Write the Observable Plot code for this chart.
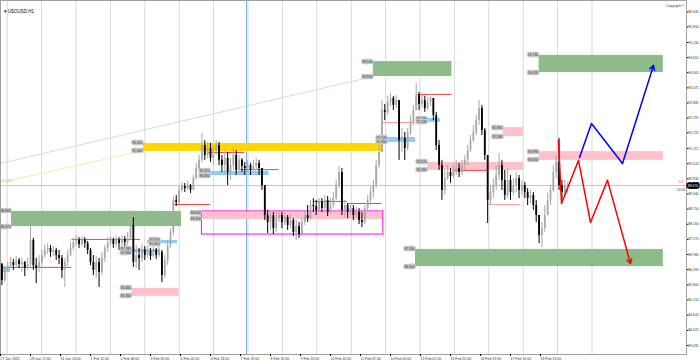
<!DOCTYPE html>
<html><head><meta charset="utf-8">
<script src="https://cdn.jsdelivr.net/npm/d3@7"></script>
<script src="https://cdn.jsdelivr.net/npm/@observablehq/plot@0.6"></script>
<style>body{margin:0;background:#fff}svg{display:block}</style>
</head><body><div id="chart"></div>
<script>
const title = "▾ USOUSD,H1";
const copyright = "Copyright ©";
const dateLabels = ["27 Jan 2022","28 Jan 17:00","31 Jan 14:00","1 Feb 11:00","2 Feb 08:00","3 Feb 05:00","4 Feb 02:00","4 Feb 23:00","7 Feb 19:00","8 Feb 16:00","9 Feb 13:00","10 Feb 10:00","11 Feb 07:00","14 Feb 04:00","15 Feb 01:00","15 Feb 22:00","16 Feb 19:00","17 Feb 16:00","18 Feb 13:00"];
const priceTicks = [83.435,84.025,84.620,85.210,85.800,86.390,86.980,87.570,88.160,88.750,89.340,89.930,90.520,91.115,91.720,92.295,92.885,93.475,94.065,94.655,95.240,95.850,96.435];

const firstOpen = 86.60;
const closes = [85.97,86.36,86.51,86.67,86.55,86.75,86.59,86.67,86.44,86.59,
87.53,86.55,86.44,86.67,86.94,87.14,87.22,87.06,87.14,86.94,
86.83,86.36,86.67,86.94,87.22,87.45,87.53,87.37,87.53,87.41,
87.14,86.67,86.36,86.67,86.28,86.83,87.22,87.41,87.53,87.37,
87.53,87.41,87.57,87.45,87.61,88.11,86.67,86.94,86.83,87.14,
86.94,87.10,86.90,87.14,86.94,87.06,86.16,86.75,87.33,87.84,
89.09,89.01,89.48,89.63,89.55,89.67,89.48,89.94,90.33,90.65,
91.23,90.84,91.11,90.72,91.03,91.23,90.65,90.45,90.72,90.18,
90.45,90.84,90.26,90.65,90.41,90.33,90.45,90.26,90.41,90.53,
90.33,89.67,88.50,88.23,88.50,87.99,88.38,88.50,88.23,88.42,
88.11,88.31,87.84,88.07,87.76,88.23,88.50,88.38,88.89,88.85,
88.70,89.01,88.77,89.09,88.62,88.89,89.16,89.67,90.18,88.70,
88.89,88.62,88.77,88.50,88.62,88.31,88.23,88.77,89.09,89.40,
89.67,90.45,90.96,92.59,92.52,92.91,93.06,92.79,92.98,91.42,
91.50,91.11,91.74,92.13,92.59,93.18,92.83,92.98,92.67,92.91,
93.06,92.40,91.23,90.45,89.48,89.94,90.18,90.02,90.26,90.33,
90.18,90.45,90.65,91.03,91.42,91.74,92.20,92.67,91.81,90.84,
89.09,89.40,89.67,90.06,90.45,89.87,89.28,89.87,89.40,89.67,
89.94,89.48,89.67,89.40,89.16,89.28,88.89,88.50,87.72,87.99,
88.50,89.09,89.48,90.18,90.57,89.67,89.40,89.67,89.67];
const highs = [86.63,86.55,86.67,86.87,86.79,86.90,86.83,86.83,86.71,86.83,
88.11,87.61,86.83,86.94,87.14,87.37,87.41,87.33,87.29,87.22,
87.14,86.94,86.83,87.14,87.45,87.61,87.72,87.64,87.68,87.64,
87.49,87.22,86.94,86.90,86.83,87.06,87.33,87.64,87.68,87.61,
87.68,87.64,87.72,87.68,87.84,88.70,88.42,87.33,87.22,87.37,
87.29,87.33,87.22,87.29,87.22,87.33,87.14,86.94,87.53,87.99,
89.24,89.28,89.63,89.79,89.75,89.83,89.71,90.06,90.53,90.84,
91.70,91.42,91.35,91.31,91.23,91.42,91.35,90.84,91.03,90.96,
90.72,91.11,91.03,90.84,90.72,90.57,90.65,90.53,90.65,90.72,
90.65,90.33,89.67,88.70,88.70,88.62,88.62,88.70,88.62,88.58,
88.50,88.54,88.38,88.31,88.23,88.38,88.70,88.89,89.09,89.16,
89.09,89.16,89.16,89.28,89.24,89.16,89.40,89.87,90.41,90.33,
89.09,88.97,88.97,88.89,88.81,88.77,88.62,88.89,89.28,89.63,
89.87,90.65,91.23,92.98,92.83,93.14,93.26,93.14,93.18,92.98,
91.89,91.74,91.89,92.40,92.79,93.65,93.30,93.18,93.14,93.10,
93.22,93.06,92.52,91.42,90.65,90.26,90.45,90.33,90.53,90.65,
90.53,90.65,90.84,91.23,91.62,92.01,92.40,92.98,92.79,91.89,
90.84,89.67,89.94,90.45,90.92,90.65,90.26,90.33,90.06,89.94,
90.18,90.06,89.87,89.79,89.55,89.48,89.40,89.09,88.50,88.23,
88.89,89.36,89.67,90.45,90.84,91.50,89.87,89.87,89.79];
const lows = [85.77,85.89,86.28,86.44,86.36,86.48,86.44,86.28,86.12,86.36,
86.51,86.36,85.85,86.28,86.55,86.83,86.98,86.87,86.90,86.75,
86.59,86.05,85.70,86.51,86.90,87.14,87.29,87.22,87.29,87.22,
86.98,86.55,86.16,86.05,85.70,86.16,86.67,87.06,87.29,87.22,
87.25,87.14,87.29,87.22,87.33,87.53,86.48,86.44,86.36,86.67,
86.75,86.83,86.75,86.87,86.79,86.87,85.89,86.05,86.55,87.22,
87.72,88.85,88.93,89.40,89.40,89.48,89.36,89.48,89.87,90.26,
90.57,90.65,90.72,90.57,90.45,90.84,90.45,90.18,90.06,89.67,
89.87,90.26,90.06,90.14,90.18,90.06,90.18,90.06,90.22,90.26,
90.06,89.48,88.31,87.80,87.92,87.76,87.84,88.23,87.99,88.11,
87.92,87.99,87.68,87.53,87.61,87.68,88.11,88.23,88.31,88.62,
88.50,88.62,88.62,88.70,88.46,88.54,88.77,89.09,89.55,88.50,
88.42,88.38,88.50,88.31,88.38,88.15,88.03,88.15,88.62,88.89,
89.16,89.55,90.33,90.96,92.20,92.40,92.75,92.59,92.67,90.65,
90.96,90.65,91.03,91.62,92.01,92.59,92.59,92.67,92.52,92.59,
92.75,92.20,91.03,90.26,89.09,89.28,89.87,89.75,89.94,90.06,
89.98,90.06,90.26,90.45,90.96,91.35,91.62,92.01,91.62,90.65,
88.19,88.89,89.16,89.48,89.87,89.48,89.09,89.16,89.09,89.28,
89.40,89.16,89.28,89.16,88.89,88.97,88.70,88.23,87.41,87.25,
87.84,88.50,88.89,89.40,89.94,89.48,89.09,89.28,89.36];

// zones: [startBar, endBar, top, bottom]
const demandZones = [[7.7,126.7,88.66,88.07],[261,316,94.50,93.92],[377,464,94.74,94.07],[290.5,464,87.18,86.51]];
const supplyZones = [[141,268,88.62,88.35],[92,125,85.66,85.35],[299,366,90.57,90.26],[352,366,91.93,91.58],[377,464,90.99,90.65]];
const dailyZones = [[100,268,91.31,91.00]];
const smallZones = [[0,7,86.44,86.28],[92,112,87.18,87.06],[103,124,87.53,87.41],[147,188,90.22,90.06],[271,290.5,91.54,91.35],[299,308,92.28,92.13]];
// bar at which each small zone's price labels end (none for the first)
const smallLabelBar = [null,92,112,147,271,299];
const rangeBox = [[141,268,88.66,87.76]];
// horizontal levels: [startBar, endBar, price]
const levels = [[0,50,86.48],[50,98,87.57],[122,147,88.93],[145,171,90.96],[168,195,90.29],[219,243,89.05],[243,267,88.97],[292,316,93.22],[317,341,90.26]];
const paleLevels = [[267,290,92.13],[341,364,88.93]];
const trendGreen = [[0,90.53],[261,93.92]];
const trendYellow = [[0,89.79],[100,91.03]];
const bearPath = [[390.6,91.42],[392.7,88.97],[404.6,90.65],[413,88.23],[424.9,89.87],[441,86.63]];
const bullPath = [[405.3,90.76],[413.7,92.09],[435.4,90.53],[457.1,94.35]];
const markerBar = 172.2;

const bars = closes.map((c,i)=>({t:1+2*i, open:i?closes[i-1]:firstOpen, close:c, high:highs[i], low:lows[i]}));
const last = closes[closes.length-1];
const toRect = a => a.map(([t1,t2,top,bottom])=>({t1,t2,top,bottom}));
const zoneLabels = [...demandZones,...supplyZones,...dailyZones]
  .flatMap(([t1,,top,bottom])=>[{t:t1,p:top},{t:t1,p:bottom}])
  .concat(smallZones.flatMap(([,,top,bottom],i)=>smallLabelBar[i]==null?[]:[{t:smallLabelBar[i],p:top},{t:smallLabelBar[i],p:bottom}]));
const seps = d3.range(18).map(k=>4.7+k*24.08);
const dateTicks = dateLabels.map((_,i)=>i*21);
const segs = p => p.slice(0,-1).map((d,i)=>({x1:d[0],y1:d[1],x2:p[i+1][0],y2:p[i+1][1]}));
const upC="#a9a9a9", dnC="#000";

const chart = Plot.plot({
  width:700, height:362, marginLeft:0, marginRight:14, marginTop:0, marginBottom:8,
  x:{domain:[0,480.2], axis:null}, y:{domain:[83.085,96.88], axis:null},
  style:{fontFamily:"Liberation Sans, Arial, sans-serif", background:"#fff"},
  marks:[
    Plot.ruleX(seps,{stroke:"#d9d9d9", strokeWidth:1}),
    Plot.ruleX([markerBar],{stroke:"#7fb0e6", strokeWidth:1}),
    Plot.ruleY([last],{stroke:"#c8c8c8"}),
    Plot.rect(toRect(demandZones),{x1:"t1",x2:"t2",y1:"bottom",y2:"top",fill:"#8dbb89"}),
    Plot.rect(toRect(supplyZones),{x1:"t1",x2:"t2",y1:"bottom",y2:"top",fill:"#ffc0cb"}),
    Plot.rect(toRect(dailyZones),{x1:"t1",x2:"t2",y1:"bottom",y2:"top",fill:"#ffd700"}),
    Plot.rect(toRect(smallZones),{x1:"t1",x2:"t2",y1:"bottom",y2:"top",fill:"#87cefa"}),
    Plot.rect(toRect(rangeBox),{x1:"t1",x2:"t2",y1:"bottom",y2:"top",fill:"none",stroke:"#ff00ff",strokeWidth:1}),
    Plot.link([trendGreen],{x1:d=>d[0][0],y1:d=>d[0][1],x2:d=>d[1][0],y2:d=>d[1][1],stroke:"#c9e4c9"}),
    Plot.link([trendYellow],{x1:d=>d[0][0],y1:d=>d[0][1],x2:d=>d[1][0],y2:d=>d[1][1],stroke:"#fbeaa0"}),
    Plot.ruleY(levels,{x1:d=>d[0],x2:d=>d[1],y:d=>d[2],stroke:"#ff3b3b",strokeWidth:1}),
    Plot.ruleY(paleLevels,{x1:d=>d[0],x2:d=>d[1],y:d=>d[2],stroke:"#ff9a9a",strokeWidth:1}),
    Plot.ruleX(bars,{x:"t",y1:"low",y2:"high",stroke:d=>d.close>=d.open?upC:dnC,strokeWidth:1}),
    Plot.ruleX(bars,{x:"t",y1:"open",y2:"close",stroke:d=>d.close>=d.open?upC:dnC,strokeWidth:1.8}),
    Plot.text(zoneLabels,{x:"t",y:"p",text:d=>d.p.toFixed(3),textAnchor:"end",dx:-1,fontSize:3.3,fill:"#333",stroke:"#c8c8c8",strokeWidth:2.5,strokeLinejoin:"miter"}),
    Plot.line(bearPath.slice(0,-1),{x:d=>d[0],y:d=>d[1],stroke:"#ff0000",strokeWidth:1.5}),
    Plot.arrow(segs(bearPath).slice(-1),{x1:"x1",y1:"y1",x2:"x2",y2:"y2",stroke:"#ff0000",strokeWidth:1.5,headLength:5}),
    Plot.line(bullPath.slice(0,-1),{x:d=>d[0],y:d=>d[1],stroke:"#0000ff",strokeWidth:1.5}),
    Plot.arrow(segs(bullPath).slice(-1),{x1:"x1",y1:"y1",x2:"x2",y2:"y2",stroke:"#0000ff",strokeWidth:1.5,headLength:5}),
    Plot.text([title],{frameAnchor:"top-left",dx:3,dy:9,fontSize:4.5,fill:"#000"}),
    Plot.text([copyright],{frameAnchor:"top-right",dx:-2,dy:4,fontSize:3.5,fill:"#333"}),
    Plot.text(["21.022"],{x:0,y:trendYellow[0][1],textAnchor:"start",dx:1,dy:-2,fontSize:3.3,fill:"#ff8c40"}),
    Plot.text(["D1"],{x:480.2,y:last,textAnchor:"end",dx:-3,dy:-4,fontSize:3.5,fill:"#ff4040"}),
    Plot.text(["52:00"],{x:480.2,y:last,textAnchor:"end",dx:-1,dy:4,fontSize:3.5,fill:"#333"}),
    Plot.frame({stroke:"#a0a0a0"}),
    Plot.axisY(priceTicks,{anchor:"right",tickSize:1.5,tickPadding:0.5,tickFormat:d=>d.toFixed(3),fontSize:3.3,fill:"#333"}),
    Plot.axisX(dateTicks,{anchor:"bottom",tickSize:2,tickPadding:1,tickFormat:d=>dateLabels[dateTicks.indexOf(d)],textAnchor:"start",fontSize:3.5,fill:"#333"}),
    Plot.text([last],{x:480.2,y:d=>d,text:d=>d.toFixed(3),textAnchor:"start",dx:1.5,fontSize:3.3,fill:"#fff",stroke:"#000",strokeWidth:3.5,strokeLinejoin:"miter",clip:false})
  ]
});
document.getElementById("chart").append(chart);
</script></body></html>
